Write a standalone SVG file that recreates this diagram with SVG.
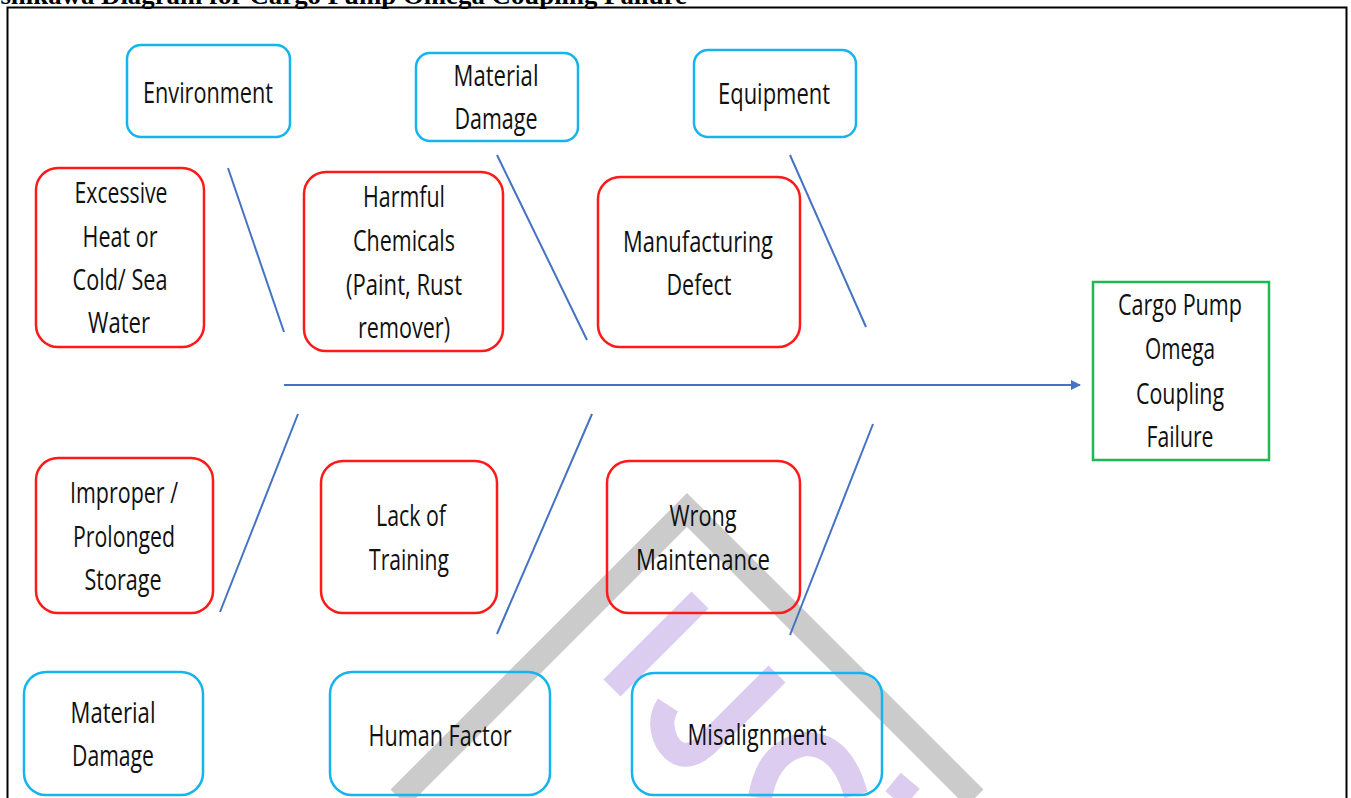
<svg xmlns="http://www.w3.org/2000/svg" width="1351" height="798" viewBox="0 0 1351 798">
<style>
.t{font-family:"Open Sans","Liberation Sans",sans-serif;font-size:29px;fill:#111;text-anchor:middle}
.red{fill:none;stroke:#ff1a1a;stroke-width:2.5}
.blue{fill:none;stroke:#14b4ee;stroke-width:2.5}
.green{fill:none;stroke:#1db954;stroke-width:2.5}
.bone{stroke:#4472c4;stroke-width:2;fill:none}
.wm{fill:none;stroke:#dccdf0;stroke-width:24}
</style>
<defs>
<marker id="ah" markerWidth="10" markerHeight="10" refX="9" refY="5" orient="auto" markerUnits="userSpaceOnUse">
<path d="M0,0 L10,5 L0,10 z" fill="#4472c4"/>
</marker>
</defs>
<rect width="1351" height="798" fill="#fff"/>
<text x="-10" y="4" font-family="Liberation Serif,serif" font-weight="bold" font-size="26" textLength="697" lengthAdjust="spacingAndGlyphs" fill="#000">Ishikawa Diagram for Cargo Pump Omega Coupling Failure</text>
<rect x="7.5" y="7.5" width="1339" height="810" fill="none" stroke="#000" stroke-width="2"/>
<g id="watermark">
<polyline points="399,798 687,510 975,798" fill="none" stroke="#cbcbcb" stroke-width="24" stroke-linejoin="miter"/>
<line x1="612" y1="688" x2="700" y2="600" class="wm" stroke-linecap="butt"/>
<path d="M777,674 L706,745 Q682,766 667,742 Q657,722 668,705" class="wm"/>
<path d="M760,798 Q768,750 806,744 Q842,744 856,795" class="wm"/>
<path d="M893,782 L912,798" class="wm"/>
</g>
<g id="connectors">
<line x1="228" y1="168" x2="284" y2="332" class="bone"/>
<line x1="497" y1="155" x2="587" y2="340" class="bone"/>
<line x1="790" y1="155" x2="866" y2="327" class="bone"/>
<line x1="298" y1="414" x2="220" y2="612" class="bone"/>
<line x1="592" y1="414" x2="497" y2="634" class="bone"/>
<line x1="873" y1="424" x2="790" y2="635" class="bone"/>
<line x1="284" y1="385" x2="1080" y2="385" class="bone" marker-end="url(#ah)"/>
</g>
<g id="environment">
<rect x="127" y="45" width="163" height="92" rx="14" class="blue"/>
<text class="t" x="208" y="103" textLength="130" lengthAdjust="spacingAndGlyphs">Environment</text>
</g>
<g id="material-damage-top">
<rect x="416" y="53" width="162" height="88" rx="14" class="blue"/>
<text class="t" x="496" y="86" textLength="85" lengthAdjust="spacingAndGlyphs">Material</text>
<text class="t" x="496" y="129" textLength="83" lengthAdjust="spacingAndGlyphs">Damage</text>
</g>
<g id="equipment">
<rect x="694" y="50" width="162" height="87" rx="14" class="blue"/>
<text class="t" x="774" y="104" textLength="112" lengthAdjust="spacingAndGlyphs">Equipment</text>
</g>
<g id="excessive-heat">
<rect x="36" y="168" width="168" height="179" rx="22" class="red"/>
<text class="t" x="121" y="203" textLength="93" lengthAdjust="spacingAndGlyphs">Excessive</text>
<text class="t" x="120" y="247" textLength="75" lengthAdjust="spacingAndGlyphs">Heat or</text>
<text class="t" x="120" y="290" textLength="95" lengthAdjust="spacingAndGlyphs">Cold/ Sea</text>
<text class="t" x="119" y="333" textLength="62" lengthAdjust="spacingAndGlyphs">Water</text>
</g>
<g id="harmful-chemicals">
<rect x="304" y="172" width="199" height="179" rx="22" class="red"/>
<text class="t" x="404" y="207" textLength="82" lengthAdjust="spacingAndGlyphs">Harmful</text>
<text class="t" x="404" y="251" textLength="102" lengthAdjust="spacingAndGlyphs">Chemicals</text>
<text class="t" x="404" y="295" textLength="116" lengthAdjust="spacingAndGlyphs">(Paint, Rust</text>
<text class="t" x="404" y="338" textLength="92" lengthAdjust="spacingAndGlyphs">remover)</text>
</g>
<g id="manufacturing-defect">
<rect x="598" y="177" width="202" height="170" rx="22" class="red"/>
<text class="t" x="698" y="252" textLength="150" lengthAdjust="spacingAndGlyphs">Manufacturing</text>
<text class="t" x="699" y="295" textLength="65" lengthAdjust="spacingAndGlyphs">Defect</text>
</g>
<g id="improper-storage">
<rect x="36" y="458" width="177" height="155" rx="22" class="red"/>
<text class="t" x="124" y="503" textLength="108" lengthAdjust="spacingAndGlyphs">Improper /</text>
<text class="t" x="124" y="547" textLength="102" lengthAdjust="spacingAndGlyphs">Prolonged</text>
<text class="t" x="123" y="590" textLength="77" lengthAdjust="spacingAndGlyphs">Storage</text>
</g>
<g id="lack-of-training">
<rect x="321" y="461" width="176" height="152" rx="22" class="red"/>
<text class="t" x="411" y="526" textLength="70" lengthAdjust="spacingAndGlyphs">Lack of</text>
<text class="t" x="409" y="570" textLength="80" lengthAdjust="spacingAndGlyphs">Training</text>
</g>
<g id="wrong-maintenance">
<rect x="607" y="461" width="193" height="152" rx="22" class="red"/>
<text class="t" x="703" y="526" textLength="67" lengthAdjust="spacingAndGlyphs">Wrong</text>
<text class="t" x="703" y="570" textLength="134" lengthAdjust="spacingAndGlyphs">Maintenance</text>
</g>
<g id="material-damage-bottom">
<rect x="24" y="672" width="179" height="123" rx="22" class="blue"/>
<text class="t" x="113" y="723" textLength="85" lengthAdjust="spacingAndGlyphs">Material</text>
<text class="t" x="113" y="766" textLength="82" lengthAdjust="spacingAndGlyphs">Damage</text>
</g>
<g id="human-factor">
<rect x="330" y="672" width="220" height="123" rx="22" class="blue"/>
<text class="t" x="440" y="746" textLength="143" lengthAdjust="spacingAndGlyphs">Human Factor</text>
</g>
<g id="misalignment">
<rect x="632" y="673" width="250" height="122" rx="22" class="blue"/>
<text class="t" x="757" y="745" textLength="139" lengthAdjust="spacingAndGlyphs">Misalignment</text>
</g>
<g id="cargo-pump-failure">
<rect x="1093" y="282" width="176" height="178" class="green"/>
<text class="t" x="1180" y="315" textLength="124" lengthAdjust="spacingAndGlyphs">Cargo Pump</text>
<text class="t" x="1180" y="359" textLength="70" lengthAdjust="spacingAndGlyphs">Omega</text>
<text class="t" x="1180" y="404" textLength="88" lengthAdjust="spacingAndGlyphs">Coupling</text>
<text class="t" x="1180" y="447" textLength="67" lengthAdjust="spacingAndGlyphs">Failure</text>
</g>
</svg>
